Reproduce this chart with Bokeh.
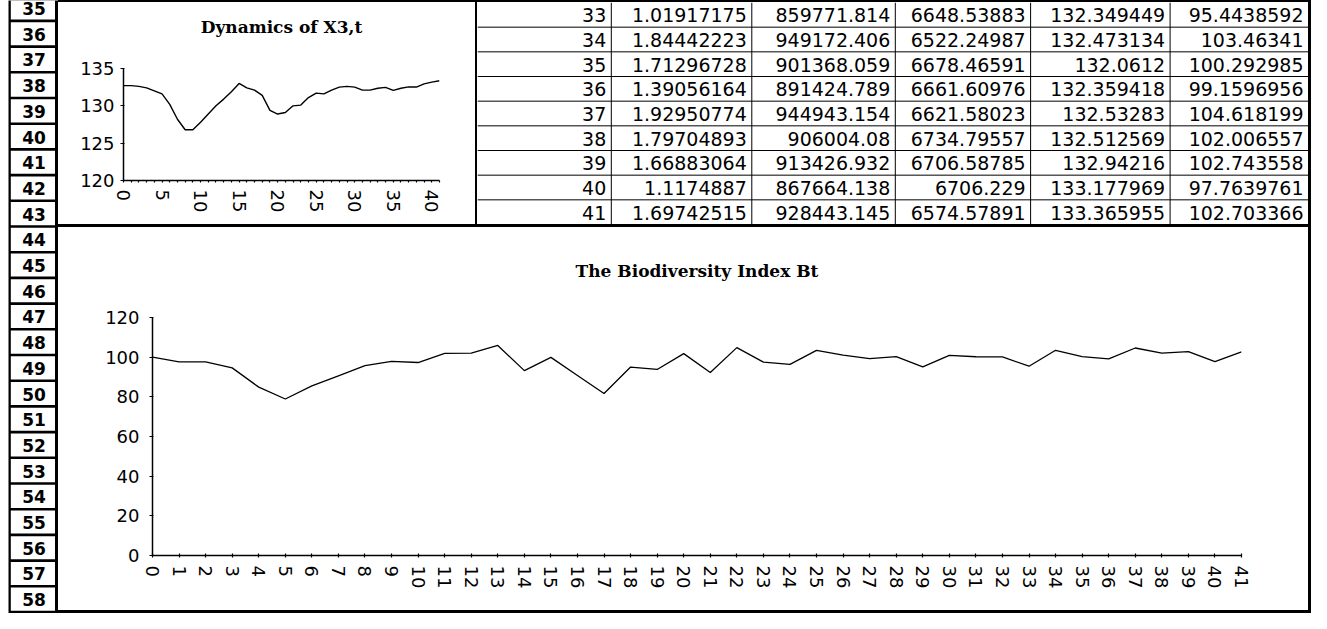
from bokeh.plotting import figure
from bokeh.layouts import row, column
from bokeh.models import Range1d, FixedTicker, ColumnDataSource, Div
from bokeh.embed import file_html
from bokeh.resources import INLINE
from bokeh.core.properties import value

# ---------------- data ----------------
t_values = [0, 1, 2, 3, 4, 5, 6, 7, 8, 9, 10, 11, 12, 13, 14, 15, 16, 17, 18, 19, 20,
            21, 22, 23, 24, 25, 26, 27, 28, 29, 30, 31, 32, 33, 34, 35, 36, 37, 38, 39, 40, 41]

x3_values = [132.7, 132.7, 132.6, 132.4, 132.0, 131.6, 130.2, 128.2, 126.8, 126.8,
             127.8, 128.9, 130.0, 130.9, 131.9, 133.0, 132.4, 132.1, 131.4, 129.4,
             128.9, 129.1, 130.0, 130.1, 131.1, 131.7, 131.6, 132.1, 132.5, 132.6,
             132.5, 132.1, 132.1, 132.349449, 132.473134, 132.0612, 132.359418,
             132.53283, 132.512569, 132.94216, 133.177969, 133.365955]

bt_values = [100.0, 97.6, 97.6, 94.6, 84.9, 78.9, 85.5, 90.6, 95.7, 97.9,
             97.3, 101.9, 102.0, 105.9, 93.2, 99.9, 90.8, 81.7, 95.0, 93.8,
             101.8, 92.3, 104.8, 97.5, 96.4, 103.4, 101.0, 99.3, 100.3, 95.1,
             100.9, 100.2, 100.1, 95.4438592, 103.46341, 100.292985, 99.1596956,
             104.618199, 102.006557, 102.743558, 97.7639761, 102.703366]

table_t = [33, 34, 35, 36, 37, 38, 39, 40, 41]
table_a = [1.01917175, 1.84442223, 1.71296728, 1.39056164, 1.92950774,
           1.79704893, 1.66883064, 1.1174887, 1.69742515]
table_b = [859771.814, 949172.406, 901368.059, 891424.789, 944943.154,
           906004.08, 913426.932, 867664.138, 928443.145]
table_c = [6648.53883, 6522.24987, 6678.46591, 6661.60976, 6621.58023,
           6734.79557, 6706.58785, 6706.229, 6574.57891]
table_x3 = x3_values[33:]
table_bt = bt_values[33:]

row_labels = ["35", "36", "37", "38", "39", "40", "41", "42", "43", "44", "45", "46",
              "47", "48", "49", "50", "51", "52", "53", "54", "55", "56", "57", "58"]

small_title = "Dynamics of X3,t"
big_title = "The Biodiversity Index Bt"
small_yticks = [120, 125, 130, 135]
big_yticks = [0, 20, 40, 60, 80, 100, 120]

# ---------------- styling helpers ----------------
TICK_FONT = "DejaVu Sans"
TITLE_FONT = "DejaVu Serif"


def bar(w, h):
    return Div(text="", width=w, height=h, margin=0,
               styles={"background-color": "black"})


def blank_fig(w, h, bg="white"):
    f = figure(width=w, height=h, toolbar_location=None, output_backend="svg",
               x_axis_type=None, y_axis_type=None, min_border=0, title=None,
               background_fill_color=bg, border_fill_color=bg,
               outline_line_color=None, frame_align=False,
               x_range=Range1d(0, w), y_range=Range1d(h, 0))
    f.grid.visible = False
    return f


def title_fig(w, h, text, cx, cy):
    f = blank_fig(w, h)
    f.text(x=[cx], y=[cy], text=[text], text_align="center", text_baseline="middle",
           text_font=value(TITLE_FONT), text_font_style="bold",
           text_font_size="17px", text_color="black")
    return f


def style_axes(p):
    p.grid.visible = False
    p.outline_line_color = None
    for ax in (p.xaxis[0], p.yaxis[0]):
        ax.axis_line_color = "black"
        ax.axis_line_width = 1.5
        ax.major_tick_line_color = "black"
        ax.major_tick_line_width = 1.2
        ax.minor_tick_line_color = None
        ax.major_label_text_font = TICK_FONT
        ax.major_label_text_font_size = "18px"
        ax.major_label_text_color = "black"
    p.xaxis.major_label_orientation = "vertical"
    p.xaxis.major_tick_in = 2
    p.xaxis.major_tick_out = 2
    p.yaxis.major_tick_in = 1
    p.yaxis.major_tick_out = 3


# ---------------- row header ----------------
HDR_W, HDR_H = 58, 613
header = blank_fig(HDR_W, HDR_H)
header.quad(left=[8], right=[HDR_W], top=[-10], bottom=[HDR_H + 10],
            fill_color="black", line_color=None)
row_h = 25.7
first_top = 226 - 9 * row_h
tops = [first_top + i * row_h for i in range(len(row_labels))]
hsrc = ColumnDataSource(dict(
    left=[10.3] * len(row_labels), right=[54.5] * len(row_labels),
    top=[t + 1.3 for t in tops], bottom=[t + row_h - 1.3 for t in tops],
    x=[33.5] * len(row_labels), y=[t + row_h / 2 + 0.5 for t in tops],
    text=row_labels))
header.quad(left="left", right="right", top="top", bottom="bottom", source=hsrc,
            fill_color="white", line_color=None)
header.text(x="x", y="y", text="text", source=hsrc, text_align="center",
            text_baseline="middle", text_font=value("DejaVu Sans"),
            text_font_style="bold", text_font_size="17px", text_color="black")

# ---------------- small chart ----------------
SW = 417
small_head = title_fig(SW, 40, small_title, 65 + 158, 24.4)
small = figure(width=SW, height=182, toolbar_location=None, output_backend="svg",
               x_range=Range1d(0, 41), y_range=Range1d(120, 135), frame_align=False,
               min_border_left=65, min_border_right=36, min_border_top=26,
               min_border_bottom=44, title=None)
small.line(t_values, x3_values, line_color="black", line_width=1.4)
style_axes(small)
small.yaxis.ticker = FixedTicker(ticks=small_yticks)
small.xaxis.ticker = FixedTicker(ticks=t_values)
small.xaxis.major_label_overrides = {t: ("" if t % 5 else str(t)) for t in t_values}
small.xaxis.major_tick_in = 0
small.xaxis.major_tick_out = 2
small.yaxis.major_label_standoff = 6
small.xaxis.major_label_standoff = 7

# ---------------- table ----------------
TW, TH = 831, 222
table = blank_fig(TW, TH)
col_edges = [0, 133.8, 274.3, 417.8, 553.1, 692.6, TW]
n_rows = len(table_t)
trow_h = TH / n_rows
columns = [table_t, table_a, table_b, table_c, table_x3, table_bt]
tx, ty, tt = [], [], []
for ci, col in enumerate(columns):
    for ri, v in enumerate(col):
        tx.append(col_edges[ci + 1] - 5)
        ty.append(ri * trow_h + trow_h / 2 + 0.5)
        tt.append(str(v))
table.text(x=tx, y=ty, text=tt, text_align="right", text_baseline="middle",
           text_font=value("DejaVu Sans"), text_font_size="19px", text_color="black")
table.segment(x0=col_edges[1:-1], x1=col_edges[1:-1],
              y0=[0] * 5, y1=[TH] * 5, line_color="black", line_width=1)
table.segment(x0=[0] * (n_rows - 1), x1=[TW] * (n_rows - 1),
              y0=[k * trow_h for k in range(1, n_rows)],
              y1=[k * trow_h for k in range(1, n_rows)],
              line_color="black", line_width=1)

# ---------------- big chart ----------------
BW = 1250
big_head = title_fig(BW, 60, big_title, 94 + 544.5, 43.5)
big = figure(width=BW, height=323, toolbar_location=None, output_backend="svg",
             x_range=Range1d(0, 41), y_range=Range1d(0, 120), frame_align=False,
             min_border_left=94, min_border_right=67, min_border_top=30,
             min_border_bottom=55, title=None)
big.line(t_values, bt_values, line_color="black", line_width=1.3)
style_axes(big)
big.yaxis.ticker = FixedTicker(ticks=big_yticks)
big.xaxis.ticker = FixedTicker(ticks=t_values)
big.yaxis.major_label_standoff = 10
big.xaxis.major_label_standoff = 8

# ---------------- layout ----------------
top_row = row(column(small_head, small), bar(2, 222), table)
inner = column(bar(BW, 2), top_row, bar(BW, 3), column(big_head, big), bar(BW, 3))
layout = row(header, inner, bar(3, 613))

open("out.html", "w").write(file_html(layout, INLINE))
